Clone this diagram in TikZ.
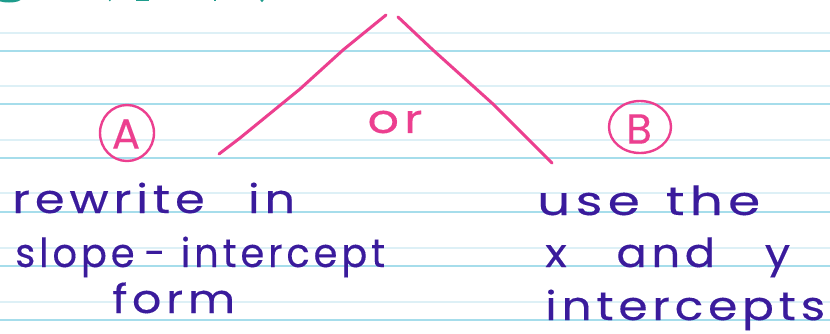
\documentclass[tikz,border=0pt]{standalone}
\usepackage{fontspec}
\usepackage{graphicx}
\newfontfamily\hand[LetterSpace=10, FakeBold=0.25]{Poppins}
\newcommand{\fitw}[2]{\resizebox{#1}{\height}{#2}}
\definecolor{inkpurple}{HTML}{3A1B9C}
\definecolor{inkpink}{HTML}{EC3F8F}
\definecolor{ruleblue}{HTML}{A6DDEB}
\definecolor{rulefaint}{HTML}{DDF0F6}
\definecolor{inkteal}{HTML}{1E9C8C}
\tikzset{
  ruleline/.style={ruleblue, line width=1.6pt},
  faintline/.style={rulefaint, line width=1.2pt},
  pinkline/.style={inkpink, line width=3pt, line cap=round, line join=round},
  handtext/.style={inkpurple, anchor=base west, inner sep=0pt, font=\hand\fontsize{40}{44}\selectfont},
  pinktext/.style={inkpink, inner sep=0pt, font=\hand\fontsize{40}{44}\selectfont},
  ring/.style={draw=inkpink, line width=2.4pt},
  ringletter/.style={inkpink, inner sep=0pt, font=\hand\fontsize{42}{44}\selectfont},
}
\begin{document}
\begin{tikzpicture}[x=1pt,y=-1pt]
\useasboundingbox (0,0) rectangle (830,333);
\fill[white] (0,0) rectangle (830,333);
% ruled paper
\foreach \yy in {33,86,140,193,248,302} \draw[faintline] (0,\yy) -- (830,\yy);
\foreach \yy in {51,104,158,212,266,320} \draw[ruleline] (0,\yy) -- (830,\yy);
% cut-off green heading at the top edge
\begin{scope}
\clip (0,0) rectangle (830,333);
\fill[inkteal] (9,-1) ellipse [x radius=12, y radius=3.5];
\draw[inkteal, line width=1.5pt] (109,-2) -- (110,1);
\draw[inkteal, line width=1.5pt] (136,0) -- (149,0);
\draw[inkteal, line width=1.5pt] (215,-2) -- (215,1);
\fill[inkteal] (262,0.5) circle (1.6);
\end{scope}
% branch lines
\coordinate (apexL) at (386,15);
\coordinate (apexR) at (398,17);
\coordinate (endL) at (219,154);
\coordinate (endR) at (552,163);
\draw[pinkline] (endL) -- (240,138) -- (300,89) -- (343,50) -- (apexL);
\draw[pinkline] (apexR) -- (433,50) -- (493,104) -- (endR);
\node[pinktext] (or) at (395,122) {\fitw{55pt}{or}};
% option labels
\node[ringletter] (A) at (126,134) {A};
\draw[ring] (127,133) ellipse [x radius=27, y radius=28];
\node[ringletter] (B) at (639,129) {B};
\draw[ring] (640,127) ellipse [x radius=31, y radius=26];
% purple text
\node[handtext] (a1) at (12,213) {\fitw{283pt}{rewrite\hspace{0.9em}in}};
\node[handtext] (a2) at (15,267) {\fitw{370pt}{slope\hspace{0.25em}-\hspace{0.4em}intercept}};
\node[handtext] (a3) at (112,313) {\fitw{123pt}{form}};
\node[handtext] (b1) at (537,215) {\fitw{223pt}{use\hspace{0.5em}the}};
\node[handtext] (b2) at (545,267) {\fitw{245pt}{x\hspace{1.1em}and\hspace{1.1em}y}};
\node[handtext] (b3) at (545,320) {\fitw{280pt}{intercepts}};
\end{tikzpicture}
\end{document}
